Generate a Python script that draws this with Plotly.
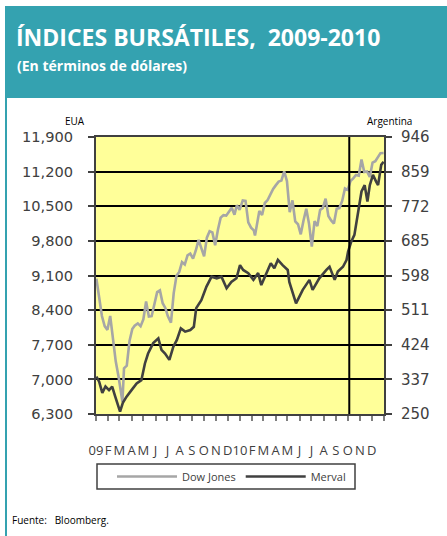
import plotly.graph_objects as go

# ---------------- data ----------------
dow_dates = [
    "2009-01-02", "2009-01-09", "2009-01-16", "2009-01-23", "2009-01-30",
    "2009-02-06", "2009-02-13", "2009-02-20", "2009-02-27", "2009-03-06",
    "2009-03-09", "2009-03-13", "2009-03-20", "2009-03-27", "2009-04-03",
    "2009-04-09", "2009-04-17", "2009-04-24", "2009-05-01", "2009-05-08",
    "2009-05-15", "2009-05-22", "2009-05-29", "2009-06-05", "2009-06-12",
    "2009-06-19", "2009-06-26", "2009-07-02", "2009-07-10", "2009-07-17",
    "2009-07-24", "2009-07-31", "2009-08-07", "2009-08-14", "2009-08-21",
    "2009-08-28", "2009-09-04", "2009-09-11", "2009-09-18", "2009-09-25",
    "2009-10-02", "2009-10-09", "2009-10-16", "2009-10-23", "2009-10-30",
    "2009-11-06", "2009-11-13", "2009-11-20", "2009-11-27", "2009-12-04",
    "2009-12-11", "2009-12-18", "2009-12-24", "2009-12-31",
    "2010-01-08", "2010-01-15", "2010-01-22", "2010-01-29", "2010-02-05",
    "2010-02-08", "2010-02-12", "2010-02-19", "2010-02-26", "2010-03-05",
    "2010-03-12", "2010-03-19", "2010-03-26", "2010-04-02", "2010-04-09",
    "2010-04-16", "2010-04-23", "2010-04-30", "2010-05-07", "2010-05-14",
    "2010-05-21", "2010-05-28", "2010-06-04", "2010-06-11", "2010-06-18",
    "2010-06-25", "2010-07-02", "2010-07-09", "2010-07-16", "2010-07-23",
    "2010-07-30", "2010-08-06", "2010-08-13", "2010-08-20", "2010-08-27",
    "2010-09-03", "2010-09-10", "2010-09-17", "2010-09-24", "2010-10-01",
    "2010-10-08", "2010-10-15", "2010-10-22", "2010-10-29", "2010-11-05",
    "2010-11-12", "2010-11-19", "2010-11-26", "2010-12-03", "2010-12-10",
    "2010-12-17", "2010-12-23", "2010-12-31",
]
dow_values = [
    9034.69, 8599.18, 8281.22, 8077.56, 8000.86,
    8280.59, 7850.41, 7365.67, 7062.93, 6626.94,
    6547.05, 7223.98, 7278.38, 7776.18, 8017.59,
    8083.38, 8131.33, 8076.29, 8212.41, 8574.65,
    8268.64, 8277.32, 8500.33, 8763.13, 8799.26,
    8539.73, 8438.39, 8280.74, 8146.52, 8743.94,
    9093.24, 9171.61, 9370.07, 9321.40, 9505.96,
    9544.20, 9441.27, 9605.41, 9820.20, 9665.19,
    9487.67, 9864.94, 9995.91, 9972.18, 9712.73,
    10023.42, 10270.47, 10318.16, 10309.92, 10388.90,
    10471.50, 10328.89, 10520.10, 10428.05,
    10618.19, 10609.65, 10172.98, 10067.33, 10012.23,
    9908.39, 10099.14, 10402.35, 10325.26, 10566.20,
    10624.69, 10741.98, 10850.36, 10927.07, 10997.35,
    11018.66, 11204.28, 11008.61, 10380.43, 10620.16,
    10193.39, 10136.63, 9931.97, 10211.07, 10450.64,
    10143.81, 9686.48, 10198.03, 10097.90, 10424.62,
    10465.94, 10653.56, 10303.15, 10213.62, 10150.65,
    10447.93, 10462.77, 10607.85, 10860.26, 10829.68,
    11006.48, 11062.78, 11132.56, 11118.49, 11444.08,
    11192.58, 11203.55, 11092.00, 11382.09, 11410.32,
    11491.91, 11573.49, 11577.51,
]

merval_dates = [
    "2009-01-02", "2009-01-09", "2009-01-17", "2009-01-25", "2009-02-03",
    "2009-02-11", "2009-02-19", "2009-03-03", "2009-03-10", "2009-03-19",
    "2009-04-01", "2009-04-14", "2009-04-26", "2009-05-05", "2009-05-13",
    "2009-05-26", "2009-06-08", "2009-06-16", "2009-06-25", "2009-07-06",
    "2009-07-16", "2009-07-25", "2009-08-04", "2009-08-15", "2009-08-28",
    "2009-09-06", "2009-09-12", "2009-09-25", "2009-10-08", "2009-10-21",
    "2009-11-03", "2009-11-15", "2009-11-28", "2009-12-10", "2009-12-23",
    "2010-01-01", "2010-01-09", "2010-01-22", "2010-02-04", "2010-02-16",
    "2010-02-24", "2010-03-08", "2010-03-20", "2010-03-29", "2010-04-07",
    "2010-04-19", "2010-05-02", "2010-05-06", "2010-05-23", "2010-06-09",
    "2010-06-26", "2010-07-04", "2010-07-21", "2010-08-08", "2010-08-16",
    "2010-08-29", "2010-09-06", "2010-09-19", "2010-09-28", "2010-10-02",
    "2010-10-10", "2010-10-18", "2010-10-27", "2010-11-05", "2010-11-13",
    "2010-11-20", "2010-11-26", "2010-12-04", "2010-12-12", "2010-12-17",
    "2010-12-25", "2010-12-31",
]
merval_values = [
    344, 331, 303, 319, 310,
    319, 293, 256, 278, 293,
    310, 327, 335, 377, 402,
    428, 440, 411, 402, 386,
    419, 436, 465, 457, 461,
    469, 516, 536, 570, 595,
    591, 595, 566, 582, 591,
    624, 612, 604, 587, 604,
    574, 604, 629, 616, 637,
    624, 612, 582, 528, 562,
    587, 562, 591, 612, 620,
    587, 608, 620, 637, 658,
    683, 700, 750, 809, 825,
    784, 825, 851, 834, 825,
    876, 884,
]

left_ticks = [6300, 7000, 7700, 8400, 9100, 9800, 10500, 11200, 11900]
right_ticks = [250, 337, 424, 511, 598, 685, 772, 859, 946]
month_ticks = [f"{y}-{m:02d}-01" for y in (2009, 2010) for m in range(1, 13)] + ["2011-01-01"]
month_labels = ["09", "F", "M", "A", "M", "J", "J", "A", "S", "O", "N", "D",
                "10", "F", "M", "A", "M", "J", "J", "A", "S", "O", "N", "D", ""]
marker_date = "2010-10-05"

# ---------------- figure ----------------
W, H = 447, 536
L, R, T, B = 96, 384, 137, 414


def px(x):
    return (x - L) / (R - L)


def py(y):
    return (B - y) / (B - T)


TEAL = "#34A2B0"
AXC = "#404040"

fig = go.Figure()
fig.add_trace(go.Scatter(x=dow_dates, y=dow_values, name="Dow Jones", mode="lines",
                         line=dict(color="#A6A6A6", width=2.6), yaxis="y"))
fig.add_trace(go.Scatter(x=merval_dates, y=merval_values, name="Merval", mode="lines",
                         line=dict(color="#404040", width=2.6), yaxis="y2"))

fig.update_layout(
    width=W, height=H, autosize=False,
    margin=dict(l=L, r=W - R, t=T, b=H - B, pad=0),
    paper_bgcolor="white", plot_bgcolor="#FFFF99",
    font=dict(family="DejaVu Sans", color=AXC),
    xaxis=dict(type="date", range=["2009-01-01", "2011-01-01"],
               tickvals=month_ticks, ticktext=month_labels, tickangle=0,
               ticks="outside", ticklen=5, tickwidth=1.5, tickcolor="#7f7f7f",
               showgrid=False, showline=True, linecolor=AXC, linewidth=2, mirror=True,
               tickfont=dict(family="Open Sans", size=13, color=AXC),
               ticklabelstandoff=18, zeroline=False),
    yaxis=dict(range=[6300, 11900], tickvals=left_ticks, tickformat=",d",
               ticks="outside", ticklen=6, tickwidth=1.5, tickcolor=AXC,
               showgrid=True, gridcolor="black", gridwidth=2,
               showline=True, linecolor=AXC, linewidth=2,
               tickfont=dict(family="DejaVu Sans", size=14.6, color=AXC),
               ticklabelstandoff=12, zeroline=False),
    yaxis2=dict(range=[250, 946], tickvals=right_ticks, overlaying="y", side="right",
                ticks="outside", ticklen=6, tickwidth=1.5, tickcolor=AXC,
                showgrid=False, showline=True, linecolor=AXC, linewidth=2,
                tickfont=dict(family="DejaVu Sans", size=15, color=AXC),
                ticklabelstandoff=6, zeroline=False),
    showlegend=True,
    legend=dict(orientation="h", x=px(112), y=py(476.5), xanchor="left", yanchor="middle",
                borderwidth=0, bgcolor="rgba(0,0,0,0)",
                font=dict(family="Open Sans", size=11, color=AXC),
                itemwidth=60, entrywidth=0, traceorder="normal"),
)

shapes = [
    # title banner
    dict(type="rect", xref="paper", yref="paper", x0=px(5), x1=px(W), y0=py(98), y1=py(6),
         fillcolor=TEAL, line=dict(width=0), layer="above"),
    # left teal rule
    dict(type="rect", xref="paper", yref="paper", x0=px(5), x1=px(7), y0=py(H), y1=py(98),
         fillcolor=TEAL, line=dict(width=0), layer="above"),
    # legend frame
    dict(type="rect", xref="paper", yref="paper", x0=px(97), x1=px(355), y0=py(489), y1=py(464),
         fillcolor="rgba(0,0,0,0)", line=dict(color=AXC, width=1.5), layer="above"),
    # vertical marker line
    dict(type="line", xref="x", yref="paper", x0=marker_date, x1=marker_date, y0=0, y1=1,
         line=dict(color="black", width=2), layer="above"),
]
fig.update_layout(shapes=shapes)

ann = [
    dict(text="<b>ÍNDICES BURSÁTILES,  2009-2010</b>", x=px(14), y=py(37),
         font=dict(family="Open Sans", size=23, color="white")),
    dict(text="<b>(En términos de dólares)</b>", x=px(15), y=py(66),
         font=dict(family="Open Sans", size=14, color="white")),
    dict(text="EUA", x=px(63), y=py(121),
         font=dict(family="Open Sans", size=10, color="black")),
    dict(text="Argentina", x=px(365), y=py(121),
         font=dict(family="Open Sans", size=10, color="black")),
    dict(text="Fuente:   Bloomberg.", x=px(10), y=py(520),
         font=dict(family="Open Sans", size=10, color="black")),
]
for a in ann:
    a.update(xref="paper", yref="paper", xanchor="left", yanchor="middle", showarrow=False)
fig.update_layout(annotations=ann)

fig.write_html("out.html", config={"displayModeBar": False},
               post_script="document.body.style.margin='0px';")
